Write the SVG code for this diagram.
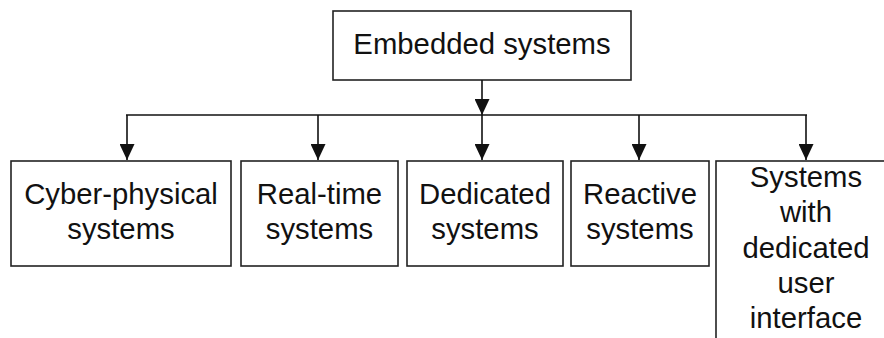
<svg xmlns="http://www.w3.org/2000/svg" width="884" height="338" viewBox="0 0 884 338">
  <style>
    .box { fill: #ffffff; stroke: #222222; stroke-width: 1.6; }
    .wire { fill: none; stroke: #111111; stroke-width: 1.6; }
    .label { font-family: "Liberation Sans", Arial, sans-serif; font-size: 29.3px; fill: #111111; text-anchor: middle; }
  </style>
  <defs>
    <marker id="arrow" markerUnits="userSpaceOnUse" markerWidth="16" markerHeight="15" refX="16" refY="7.5" orient="auto" viewBox="0 0 16 15">
      <path d="M0,0 L16,7.5 L0,15 Z" fill="#111111"/>
    </marker>
  </defs>
  <rect width="884" height="338" fill="#ffffff"/>

  <g id="embedded-systems">
    <rect class="box" x="333" y="11" width="298" height="69"/>
    <text class="label" x="482" y="54">Embedded systems</text>
  </g>

  <g id="connectors">
    <line class="wire" x1="482" y1="80" x2="482" y2="115" marker-end="url(#arrow)"/>
    <line class="wire" x1="126" y1="115" x2="807" y2="115"/>
    <line class="wire" x1="127" y1="115" x2="127" y2="160" marker-end="url(#arrow)"/>
    <line class="wire" x1="318" y1="115" x2="318" y2="160" marker-end="url(#arrow)"/>
    <line class="wire" x1="482" y1="115" x2="482" y2="160" marker-end="url(#arrow)"/>
    <line class="wire" x1="639" y1="115" x2="639" y2="160" marker-end="url(#arrow)"/>
    <line class="wire" x1="806" y1="115" x2="806" y2="160" marker-end="url(#arrow)"/>
  </g>

  <g id="cyber-physical-systems">
    <rect class="box" x="11" y="161" width="220" height="105"/>
    <text class="label" x="121" y="204">Cyber-physical</text>
    <text class="label" x="121" y="239">systems</text>
  </g>

  <g id="real-time-systems">
    <rect class="box" x="241" y="161" width="157" height="105"/>
    <text class="label" x="319.5" y="204">Real-time</text>
    <text class="label" x="319.5" y="239">systems</text>
  </g>

  <g id="dedicated-systems">
    <rect class="box" x="407" y="161" width="156" height="105"/>
    <text class="label" x="485" y="204">Dedicated</text>
    <text class="label" x="485" y="239">systems</text>
  </g>

  <g id="reactive-systems">
    <rect class="box" x="571" y="161" width="138" height="105"/>
    <text class="label" x="640" y="204">Reactive</text>
    <text class="label" x="640" y="239">systems</text>
  </g>

  <g id="dedicated-ui-systems">
    <rect class="box" x="716" y="161" width="200" height="200"/>
    <text class="label" x="806" y="187">Systems</text>
    <text class="label" x="806" y="222">with</text>
    <text class="label" x="806" y="258">dedicated</text>
    <text class="label" x="806" y="293">user</text>
    <text class="label" x="806" y="328">interface</text>
  </g>
</svg>
